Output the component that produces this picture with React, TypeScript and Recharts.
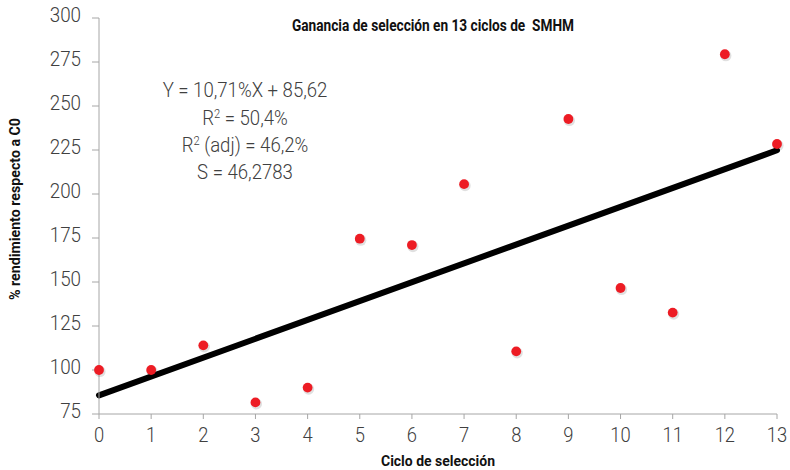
import React from "react";
import {
  ComposedChart,
  Scatter,
  Line,
  XAxis,
  YAxis,
  Customized,
} from "recharts";

// ---- data ----
const cycles = [0, 1, 2, 3, 4, 5, 6, 7, 8, 9, 10, 11, 12, 13];
const gainPct = [100, 100, 114, 81.6, 90, 174.6, 171, 205.6, 110.6, 242.6, 146.6, 132.6, 279.4, 228.4];
const fitCycles = [0, 13];
const fitValues = [85.62, 224.85];
const yTicks = [75, 100, 125, 150, 175, 200, 225, 250, 275, 300];
const xTicks = [0, 1, 2, 3, 4, 5, 6, 7, 8, 9, 10, 11, 12, 13];

const chartTitle = "Ganancia de selección en 13 ciclos de  SMHM";
const xTitle = "Ciclo de selección";
const yTitle = "% rendimiento respecto a C0";
const eqLine = "Y = 10,71%X + 85,62";
const r2Text = " = 50,4%";
const r2AdjText = " (adj) = 46,2%";
const sText = "S = 46,2783";

const data = cycles.map((c, i) => {
  const fi = fitCycles.indexOf(c);
  return { x: c, y: gainPct[i], fit: fi >= 0 ? fitValues[fi] : null };
});

const W = 790;
const H = 470;
const LIGHT = "Roboto, 'Open Sans', sans-serif";
const BOLD = "'Liberation Sans Narrow', Roboto, sans-serif";

const YTick = (props: any) => {
  const { x, y, payload } = props;
  return (
    <text transform={`translate(${x} ${y + 4}) scale(0.94 1)`} x={0} y={0} textAnchor="end"
      fontFamily={LIGHT} fontWeight={300} fontSize={20} fill="#404040">
      {payload.value}
    </text>
  );
};

const XTick = (props: any) => {
  const { x, y, payload } = props;
  return (
    <text transform={`translate(${x} ${y + 14}) scale(0.92 1)`} x={0} y={0} textAnchor="middle"
      fontFamily={LIGHT} fontWeight={300} fontSize={20} fill="#404040">
      {payload.value}
    </text>
  );
};

const RedDot = (props: any) => {
  const { cx, cy } = props;
  if (cx == null || cy == null) return null;
  return (
    <g>
      <circle cx={cx + 1} cy={cy + 1.5} r={5.6} fill="#000" opacity={0.12} />
      <circle cx={cx} cy={cy} r={4.9} fill="#ED1C24" />
    </g>
  );
};

const AnnLine = ({ cx, by, children }: any) => (
  <text
    transform={`translate(${cx} ${by}) scale(0.93 1)`}
    x={0}
    y={0}
    textAnchor="middle"
    fontFamily={LIGHT}
    fontWeight={300}
    fontSize={20}
    fill="#404040"
  >
    {children}
  </text>
);

const Texts = () => {
  return (
    <g>
      <text x={433} y={31} textAnchor="middle" fontFamily={BOLD} fontWeight={700} fontSize={16} fill="#111"
        textLength={282} lengthAdjust="spacingAndGlyphs" xmlSpace="preserve" style={{ whiteSpace: "pre" }}>
        {chartTitle}
      </text>
      <text x={438} y={466} textAnchor="middle" fontFamily={BOLD} fontWeight={700} fontSize={15} fill="#111"
        textLength={114} lengthAdjust="spacingAndGlyphs">
        {xTitle}
      </text>
      <text x={0} y={0} transform="translate(20 209) rotate(-90)" textAnchor="middle" fontFamily={BOLD}
        fontWeight={700} fontSize={15} fill="#111" textLength={182} lengthAdjust="spacingAndGlyphs">
        {yTitle}
      </text>
      <AnnLine cx={245} by={97}>{eqLine}</AnnLine>
      <AnnLine cx={245} by={124.5}>
        R<tspan dy={-7} fontSize={12}>2</tspan><tspan dy={7}>{r2Text}</tspan>
      </AnnLine>
      <AnnLine cx={245} by={152}>
        R<tspan dy={-7} fontSize={12}>2</tspan><tspan dy={7}>{r2AdjText}</tspan>
      </AnnLine>
      <AnnLine cx={245} by={179}>{sText}</AnnLine>
    </g>
  );
};

export default function App() {
  return (
    <div style={{ position: "absolute", left: 0, top: 0, width: W, height: H, overflow: "visible" }}>
      <ComposedChart width={W} height={H} data={data} margin={{ top: 18, right: 13, left: 0, bottom: 0 }}
        style={{ overflow: "visible" }}>
        <XAxis
          type="number"
          dataKey="x"
          domain={[0, 13]}
          ticks={xTicks}
          interval={0}
          tick={<XTick />}
          tickSize={5}
          tickMargin={9}
          height={56}
          stroke="#a6a6a6"
          tickLine={{ stroke: "#a6a6a6" }}
          allowDecimals={false}
        />
        <YAxis
          type="number"
          domain={[75, 300]}
          ticks={yTicks}
          interval={0}
          tick={<YTick />}
          tickSize={7}
          tickMargin={11}
          width={99}
          stroke="#a6a6a6"
          tickLine={{ stroke: "#a6a6a6" }}
        />
        <Scatter dataKey="y" shape={<RedDot />} isAnimationActive={false} />
        <Line
          dataKey="fit"
          connectNulls
          stroke="#000"
          strokeWidth={6}
          strokeLinecap="round"
          dot={false}
          activeDot={false}
          isAnimationActive={false}
        />
        <Customized component={Texts} />
      </ComposedChart>
    </div>
  );
}
